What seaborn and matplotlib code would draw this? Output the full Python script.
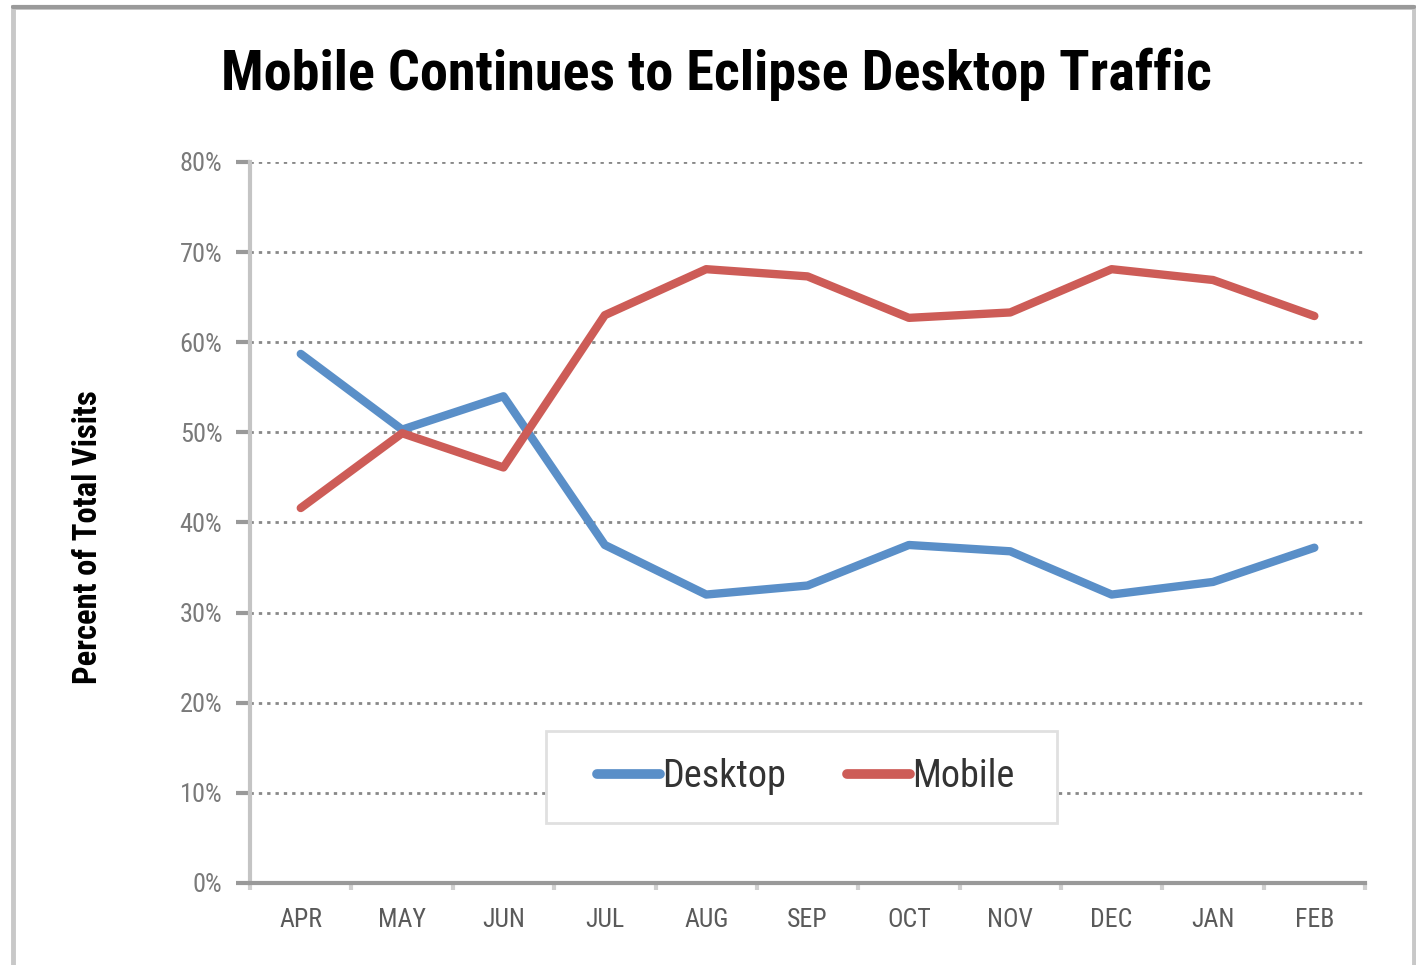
import matplotlib
matplotlib.use("Agg")
import matplotlib.pyplot as plt
import matplotlib.ticker as mticker
from matplotlib.patches import Rectangle
import seaborn as sns
import pandas as pd
import numpy as np

months = ["APR", "MAY", "JUN", "JUL", "AUG", "SEP", "OCT", "NOV", "DEC", "JAN", "FEB"]
desktop = [58.7, 50.3, 54.0, 37.5, 32.0, 33.0, 37.5, 36.8, 32.0, 33.4, 37.2]
mobile = [41.6, 49.9, 46.1, 63.0, 68.1, 67.3, 62.7, 63.3, 68.1, 66.9, 62.9]
series = ["Desktop", "Mobile"]
colors = ["#5A8FC8", "#CD5C57"]
title = "Mobile Continues to Eclipse Desktop Traffic"
ylabel = "Percent of Total Visits"
yticks = [0, 10, 20, 30, 40, 50, 60, 70, 80]

df = pd.DataFrame({
    "month": months * 2,
    "pos": list(range(len(months))) * 2,
    "value": desktop + mobile,
    "series": [series[0]] * len(months) + [series[1]] * len(months),
})

sns.set_theme(style="white")
narrow = ["Roboto Condensed", "DejaVu Sans Condensed", "DejaVu Sans"]
plt.rcParams["font.family"] = narrow
plt.rcParams["font.stretch"] = "condensed"

fig = plt.figure(figsize=(14.16, 9.65), dpi=100)
ax = fig.add_axes([0.1766, 0.085, 0.7874, 0.7472])

sns.lineplot(data=df, x="pos", y="value", hue="series", palette=colors,
             linewidth=6, ax=ax, legend=True)

ax.set_xlim(-0.5, len(months) - 0.5)
ax.set_ylim(0, 80)
ax.set_yticks(yticks)
ax.yaxis.set_major_formatter(mticker.FuncFormatter(lambda v, p: f"{v:.0f}%"))
ax.set_xticks(range(len(months)))
ax.set_xticklabels(months)
ax.set_xticks(np.arange(-0.5, len(months)), minor=True)
ax.tick_params(axis="x", which="major", bottom=True, length=0, pad=18, labelsize=18.5,
               labelcolor="#5a5a5a")
ax.tick_params(axis="x", which="minor", bottom=True, length=5, width=3, color="#d0d0d0",
               direction="out")
ax.tick_params(axis="y", which="major", left=True, length=10, width=3, color="#999999",
               pad=10, labelsize=19, labelcolor="#7a7a7a")
ax.grid(axis="y", linestyle=(0, (1.2, 1.8)), color="#888888", linewidth=2)
ax.set_axisbelow(True)
ax.set_xlabel("")
ax.set_ylabel("")

for side in ["top", "right"]:
    ax.spines[side].set_visible(False)
ax.spines["left"].set_color("#c4c4c4")
ax.spines["left"].set_linewidth(3)
ax.spines["bottom"].set_color("#999999")
ax.spines["bottom"].set_linewidth(3)

# legend box, drawn over the gridlines
ax.add_patch(Rectangle((0.2655, 0.0832), 0.4583, 0.1276, transform=ax.transAxes,
                       facecolor="white", edgecolor="#e0e0e0", linewidth=2, zorder=3))
handles, labels = ax.get_legend_handles_labels()
leg = ax.legend(handles, labels, loc="center", bbox_to_anchor=(0.4985, 0.147),
                ncol=2, frameon=False, fontsize=27.5,
                handlelength=1.65, handletextpad=0.05, columnspacing=1.6,
                borderpad=0, borderaxespad=0)
leg.set_zorder(4)
for line in leg.get_lines():
    line.set_linewidth(7)
for t in leg.get_texts():
    t.set_color("#333333")

fig.text(0.506, 0.923, title, ha="center", va="center", fontsize=40.5,
         fontweight="black", color="black", family=narrow)
fig.text(0.062, 0.443, ylabel, ha="center", va="center", rotation=90,
         fontsize=23.5, fontweight="bold", color="black", family=narrow)

# outer frame
fig.patches.append(Rectangle((13 / 1416, -0.05), (1414 - 13) / 1416, 1.05 - 7 / 965,
                             transform=fig.transFigure, fill=False,
                             edgecolor="#c8c8c8", linewidth=3.5, zorder=0))
fig.lines.append(plt.Line2D([13 / 1416, 1414 / 1416], [1 - 7 / 965, 1 - 7 / 965],
                            transform=fig.transFigure, color="#9a9a9a", linewidth=3))

fig.savefig("out.png", dpi=100, facecolor="white")
